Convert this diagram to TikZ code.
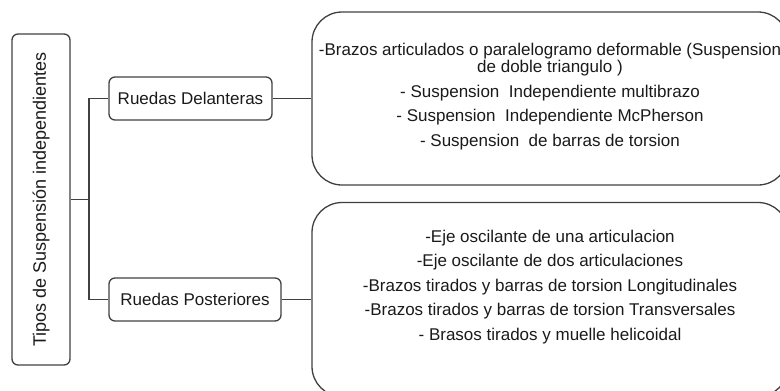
\documentclass[tikz,border=0pt]{standalone}
\usepackage{fontspec}
\setmainfont{Liberation Sans}
\usepackage{tikz}
\usetikzlibrary{calc}
\definecolor{linegray}{HTML}{404040}
\definecolor{textgray}{HTML}{1A1A1A}

\begin{document}
\begin{tikzpicture}[x=1pt, y=-1pt,
        box/.style={draw=linegray, line width=1.3pt, rounded corners=6pt, inner sep=0pt, text=textgray, font=\fontsize{17}{20}\selectfont},
        listbox/.style={draw=linegray, line width=1.3pt, rounded corners=30pt, inner sep=0pt},
        listtext/.style={align=center, inner sep=0pt, text=textgray, font=\fontsize{17}{24.5}\selectfont},
        link/.style={linegray, line width=1.3pt}]
        \useasboundingbox (0,0) rectangle (780,391);
        \clip (0,0) rectangle (780,391);

        \node[box, minimum width=58pt, minimum height=331pt] (root) at (41,199.5) {\fontsize{18}{20}\selectfont\rotatebox{90}{Tipos de Suspensión independientes}};
        \node[box, minimum width=163pt, minimum height=43pt] (del) at (190.5,98.5) {Ruedas Delanteras};
        \node[box, minimum width=172pt, minimum height=43pt] (pos) at (195,299.5) {Ruedas Posteriores};
        \node[listbox, minimum width=476pt, minimum height=173pt] (delBox) at (550,98.5) {};
        \node[listbox, minimum width=476pt, minimum height=194pt] (posBox) at (550,299.5) {};
        \coordinate (fork) at (89,199.5);

        \node[listtext] (delList) at (550,96.5) {-Brazos articulados o paralelogramo deformable (Suspension\\[-7.5pt]
            de doble triangulo )\\
            - Suspension~ Independiente multibrazo\\
            - Suspension~ Independiente McPherson\\
            - Suspension~ de barras de torsion};
        \node[listtext] (posList) at (550,287) {-Eje oscilante de una articulacion\\
            -Eje oscilante de dos articulaciones\\
            -Brazos tirados y barras de torsion Longitudinales\\
            -Brazos tirados y barras de torsion Transversales\\
            - Brasos tirados y muelle helicoidal};

        \draw[link] (root.east) -- (fork);
        \draw[link] (fork) |- (del.west);
        \draw[link] (fork) |- (pos.west);
        \draw[link] (del.east) -- (delBox.west);
        \draw[link] (pos.east) -- (posBox.west);
    \end{tikzpicture}
\end{document}
